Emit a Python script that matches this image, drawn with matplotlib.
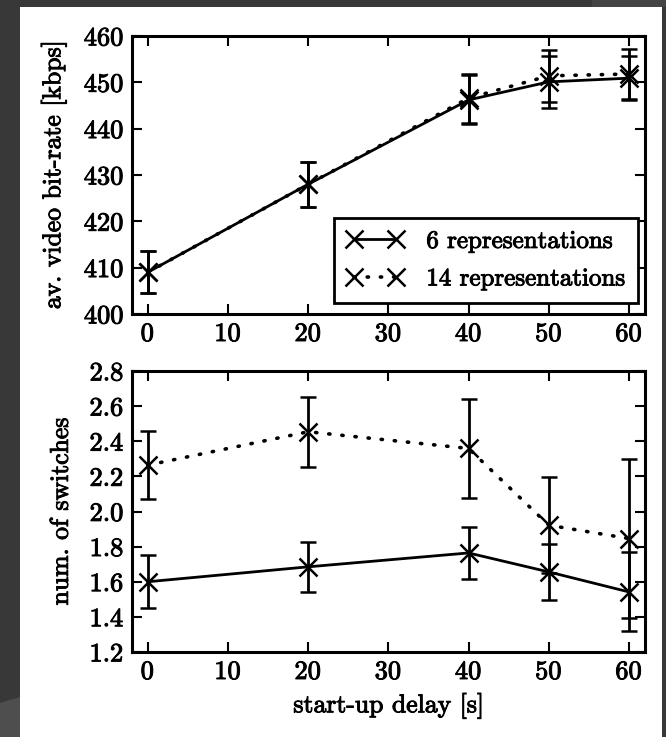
import matplotlib
matplotlib.use("Agg")
import matplotlib.pyplot as plt
import matplotlib.patheffects as pe
from matplotlib.patches import Rectangle, Polygon
from matplotlib.lines import Line2D

plt.rcParams['font.family'] = 'serif'
plt.rcParams['font.serif'] = ['cmr10', 'DejaVu Serif']
plt.rcParams['mathtext.fontset'] = 'cm'
plt.rcParams['axes.formatter.use_mathtext'] = True

delays = [0, 20, 40, 50, 60]
x_ticks = [0, 10, 20, 30, 40, 50, 60]

rate6 = [409.0, 428.0, 446.2, 450.1, 450.9]
rate6_err = [4.5, 4.9, 5.3, 5.6, 4.8]
rate14 = [409.0, 428.0, 446.6, 451.4, 451.8]
rate14_err = [4.5, 4.9, 5.3, 5.6, 5.3]

sw6 = [1.60, 1.685, 1.764, 1.656, 1.542]
sw6_err = [0.152, 0.143, 0.148, 0.16, 0.225]
sw14 = [2.264, 2.454, 2.359, 1.922, 1.846]
sw14_err = [0.195, 0.2, 0.28, 0.275, 0.455]

label6 = '6 representations'
label14 = '14 representations'

W, H = 666, 737
fig = plt.figure(figsize=(W / 100, H / 100), dpi=100)
fig.patch.set_facecolor('#383838')
fig.patches.append(Rectangle((592 / W, 1 - 7 / H), 1 - 592 / W, 7 / H, transform=fig.transFigure,
                             facecolor='#444444', edgecolor='none', zorder=-10))
fig.patches.append(Polygon([(0, 1 - 703 / H), (20 / W, 1 - 697 / H), (20 / W, 0), (0, 0)],
                           closed=True, transform=fig.transFigure,
                           facecolor='#4e4e4e', edgecolor='none', zorder=-10))
fig.patches.append(Rectangle((20 / W, 0), (662 - 20) / W, 1 - 7 / H, transform=fig.transFigure,
                             facecolor='white', edgecolor='none', zorder=-9))

left = 131.7 / W
width = (645 - 131.7) / W
ax1 = fig.add_axes([left, 1 - 314 / H, width, 278 / H])
ax2 = fig.add_axes([left, 1 - 652 / H, width, 281 / H])

FS_TICK = 19
FS_LEG = 18
FS_LABEL = 18.5
bold = [pe.withStroke(linewidth=0.7, foreground='black')]
lw = 2.0
ms = 12.5
dotted = (0, (0.35, 3.3))
common = dict(color='black', marker='x', markersize=ms, markeredgewidth=1.8,
              elinewidth=2.0, capsize=5.5, capthick=2.0)

def style(ax, ylim, yticks, yfmt):
    ax.set_xlim(-2, 62)
    ax.set_ylim(*ylim)
    ax.set_xticks(x_ticks)
    ax.set_yticks(yticks)
    ax.set_yticklabels([yfmt.format(v) for v in yticks])
    ax.tick_params(direction='in', top=True, right=True, length=7, width=1.5,
                   labelsize=FS_TICK, pad=6)
    for s in ax.spines.values():
        s.set_linewidth(2.2)
    for t in ax.get_xticklabels() + ax.get_yticklabels():
        t.set_path_effects(bold)

ax1.errorbar(delays, rate14, yerr=rate14_err, linestyle=dotted, linewidth=2.6,
             dash_capstyle='round', zorder=3, **common)
ax1.errorbar(delays, rate6, yerr=rate6_err, linestyle='-', linewidth=lw, zorder=4, **common)
style(ax1, (400, 460), [400, 410, 420, 430, 440, 450, 460], '{:.0f}')
ax1.set_ylabel('av. video bit-rate [kbps]', fontsize=FS_LABEL, labelpad=12, path_effects=bold)

handles = [Line2D([], [], color='black', linestyle='-', linewidth=lw, marker='x',
                  markersize=ms, markeredgewidth=1.8),
           Line2D([], [], color='black', linestyle=dotted, linewidth=2.6, marker='x',
                  dash_capstyle='round', markersize=ms, markeredgewidth=1.8)]
leg = ax1.legend(handles, [label6, label14], loc='lower right', fontsize=FS_LEG, frameon=True,
                 fancybox=False, edgecolor='black', framealpha=1, numpoints=2,
                 handlelength=2.3, handletextpad=0.9, borderpad=0.5, labelspacing=0.6,
                 borderaxespad=0, bbox_to_anchor=(0.986, 0.04))
leg.get_frame().set_linewidth(2.0)
for t in leg.get_texts():
    t.set_path_effects(bold)

ax2.errorbar(delays, sw14, yerr=sw14_err, linestyle=dotted, linewidth=2.6,
             dash_capstyle='round', zorder=3, **common)
ax2.errorbar(delays, sw6, yerr=sw6_err, linestyle='-', linewidth=lw, zorder=4, **common)
style(ax2, (1.2, 2.8), [1.2, 1.4, 1.6, 1.8, 2.0, 2.2, 2.4, 2.6, 2.8], '{:.1f}')
ax2.set_ylabel('num. of switches', fontsize=FS_LABEL, labelpad=12, path_effects=bold)
ax2.set_xlabel('start-up delay [s]', fontsize=FS_LABEL, labelpad=6, path_effects=bold)

fig.savefig('out.png', dpi=100, facecolor=fig.get_facecolor())
